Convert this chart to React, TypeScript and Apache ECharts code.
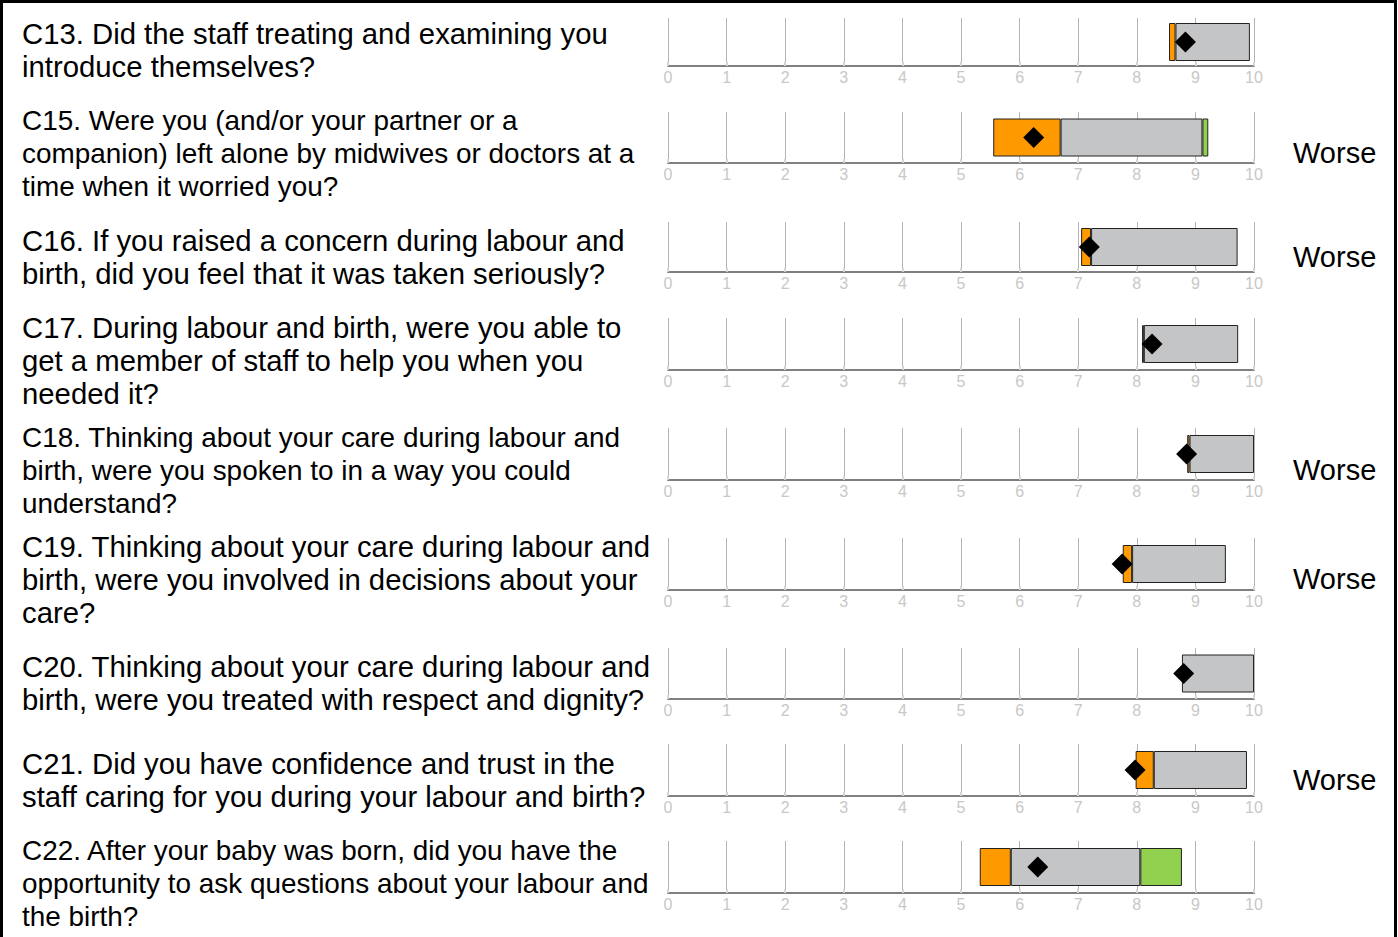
import React, { useEffect, useRef } from "react";
import * as echarts from "echarts";

const questions: string[][] = [
  ["C13. Did the staff treating and examining you", "introduce themselves?"],
  ["C15. Were you (and/or your partner or a", "companion) left alone by midwives or doctors at a", "time when it worried you?"],
  ["C16. If you raised a concern during labour and", "birth, did you feel that it was taken seriously?"],
  ["C17. During labour and birth, were you able to", "get a member of staff to help you when you", "needed it?"],
  ["C18. Thinking about your care during labour and", "birth, were you spoken to in a way you could", "understand?"],
  ["C19. Thinking about your care during labour and", "birth, were you involved in decisions about your", "care?"],
  ["C20. Thinking about your care during labour and", "birth, were you treated with respect and dignity?"],
  ["C21. Did you have confidence and trust in the", "staff caring for you during your labour and birth?"],
  ["C22. After your baby was born, did you have the", "opportunity to ask questions about your labour and", "the birth?"],
];

const lowerStart = [8.55, 5.55, 7.05, 8.09, 8.86, 7.76, 8.77, 7.98, 5.32];
const orangeEnd = [8.66, 6.7, 7.22, 8.12, 8.9, 7.92, 8.77, 8.29, 5.85];
const grayEnd = [9.93, 9.12, 9.72, 9.73, 10.0, 9.52, 10.0, 9.88, 8.06];
const greenEnd = [9.93, 9.22, 9.72, 9.73, 10.0, 9.52, 10.0, 9.88, 8.77];
const score = [8.83, 6.24, 7.19, 8.26, 8.85, 7.75, 8.8, 7.97, 6.31];
const verdict = ["", "Worse", "Worse", "", "Worse", "Worse", "", "Worse", ""];
const axisTicks = [0, 10];

// layout
const gridTop = [18, 112, 222, 318, 428, 538, 648, 744, 841];
const axisY = [66, 163, 272, 370, 480, 590, 699, 796, 893];
const textTop = [16.5, 103.5, 223.5, 310.5, 420.5, 529.5, 649.5, 746.5, 833.5];
const textSize = [29.3, 27.9, 29.3, 29.3, 27.9, 29.3, 29.3, 29.3, 27.9];
const LINE_H = 33;
const FONT = "'Liberation Sans', Arial, sans-serif";

export default function App() {
  const ref = useRef<HTMLDivElement>(null);
  useEffect(() => {
    if (!ref.current) return;
    const chart = echarts.init(ref.current, undefined, { renderer: "svg" });
    const grids: any[] = [];
    const xAxes: any[] = [];
    const yAxes: any[] = [];
    const series: any[] = [];
    const graphics: any[] = [];
    const seg = (v: number) => (Math.abs(v) < 0.001 ? "-" : +v.toFixed(3));
    questions.forEach((q, i) => {
      grids.push({ left: 668, width: 586, top: gridTop[i], height: axisY[i] - gridTop[i] });
      xAxes.push({
        type: "value",
        gridIndex: i,
        min: axisTicks[0],
        max: axisTicks[1],
        interval: 1,
        axisLine: { show: true, lineStyle: { color: "#808080", width: 2 } },
        axisTick: { show: true, inside: true, length: 4, lineStyle: { color: "#d4d4d4", width: 2 } },
        axisLabel: { color: "#c8c8c8", fontSize: 16, fontFamily: FONT, margin: 3 },
        splitLine: { show: true, lineStyle: { color: "#b4b4b4", width: 1 } },
      });
      yAxes.push({
        type: "category",
        gridIndex: i,
        data: ["q"],
        axisLine: { show: false },
        axisTick: { show: false },
        axisLabel: { show: false },
        splitLine: { show: false },
      });
      const border = { borderColor: "#222", borderWidth: 1 };
      const common = { type: "bar", xAxisIndex: i, yAxisIndex: i, stack: "s" + i, barWidth: 38, silent: true };
      series.push({ ...common, data: [lowerStart[i]], itemStyle: { color: "transparent", borderWidth: 0 } });
      series.push({ ...common, data: [seg(orangeEnd[i] - lowerStart[i])], itemStyle: { color: "#ff9900", ...border } });
      series.push({ ...common, data: [seg(grayEnd[i] - orangeEnd[i])], itemStyle: { color: "#c4c5c6", ...border } });
      series.push({ ...common, data: [seg(greenEnd[i] - grayEnd[i])], itemStyle: { color: "#92d050", ...border } });
      series.push({
        type: "scatter",
        xAxisIndex: i,
        yAxisIndex: i,
        data: [[score[i], "q"]],
        symbol: "diamond",
        symbolSize: 21,
        itemStyle: { color: "#000", opacity: 1 },
        z: 5,
        silent: true,
      });
      graphics.push({
        type: "text",
        x: 22,
        y: textTop[i],
        style: {
          text: q.join("\n"),
          font: `${textSize[i]}px ${FONT}`,
          fill: "#000",
          lineHeight: LINE_H,
          verticalAlign: "top",
        },
      });
      if (verdict[i]) {
        graphics.push({
          type: "text",
          x: 1293,
          y: textTop[i] + (q.length * LINE_H) / 2,
          style: { text: verdict[i], font: `29px ${FONT}`, fill: "#000", verticalAlign: "middle" },
        });
      }
    });
    graphics.push({
      type: "rect",
      shape: { x: 1.5, y: 1.5, width: 1394, height: 1000 },
      style: { fill: "none", stroke: "#000", lineWidth: 3 },
      silent: true,
    });
    chart.setOption({
      animation: false,
      backgroundColor: "#fff",
      grid: grids,
      xAxis: xAxes,
      yAxis: yAxes,
      series,
      graphic: graphics,
    });
    return () => chart.dispose();
  }, []);
  return <div ref={ref} style={{ position: "fixed", left: 0, top: 0, width: 1398, height: 937 }} />;
}
